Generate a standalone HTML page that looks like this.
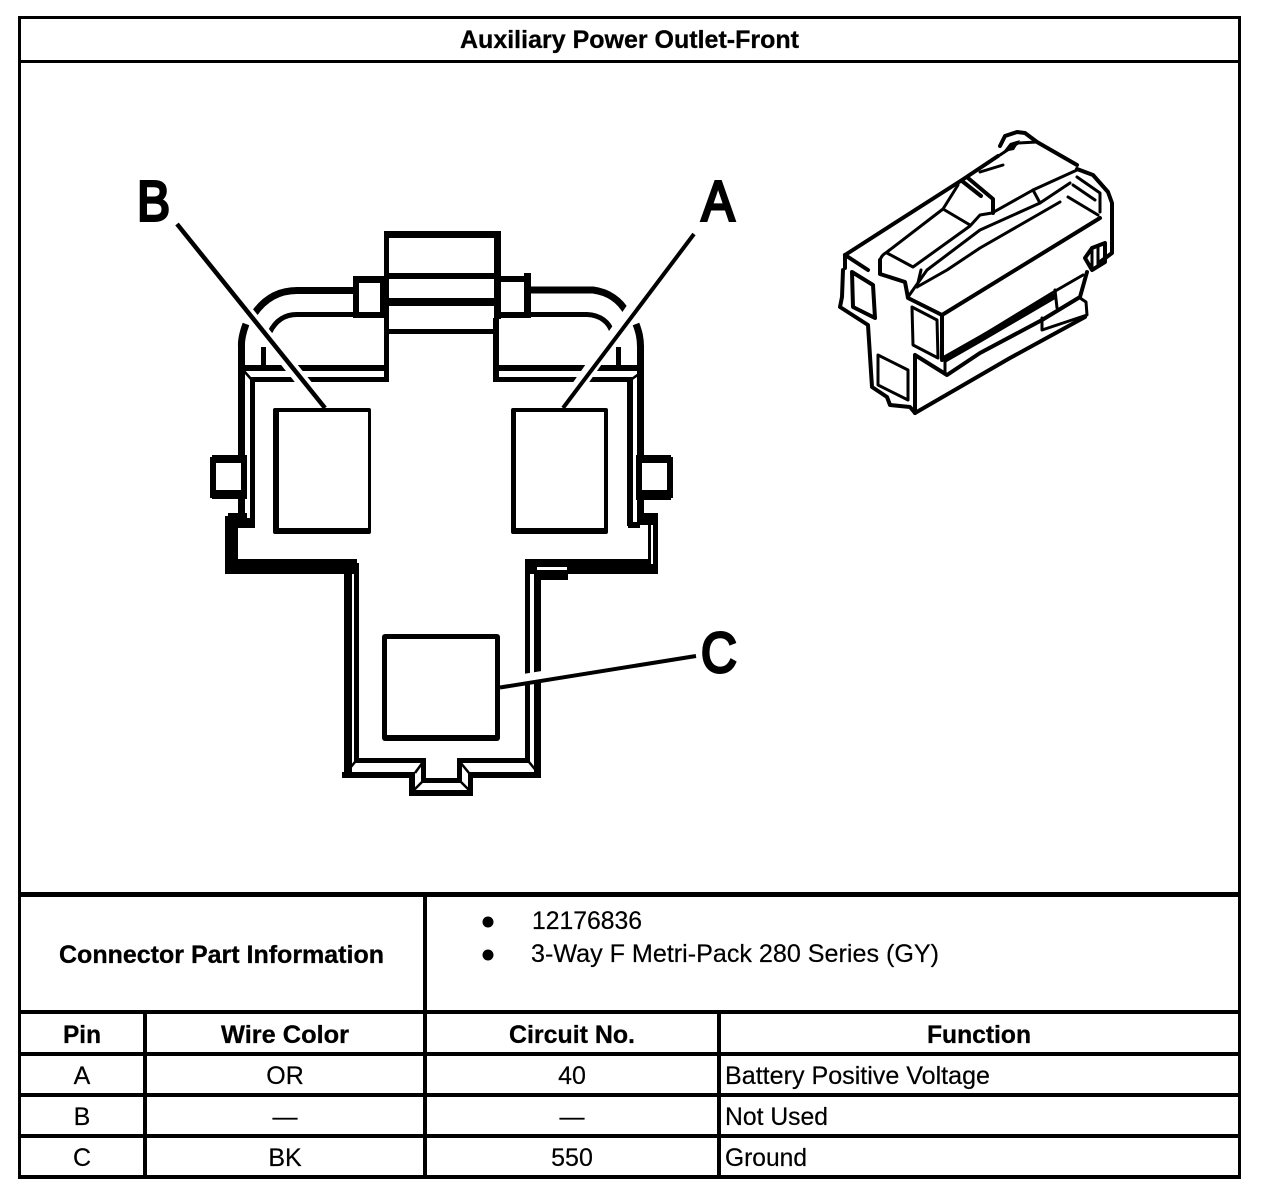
<!DOCTYPE html>
<html>
<head>
<meta charset="utf-8">
<style>
html,body{margin:0;padding:0;background:#fff;width:1280px;height:1194px;overflow:hidden}
svg{display:block;position:absolute;left:0;top:0}
text{font-family:"Liberation Sans",Arial,sans-serif;fill:#000}
.b{font-weight:bold;font-size:25px;stroke:#000;stroke-width:.3px}
.r{font-size:25px;stroke:#000;stroke-width:.2px}
.big{font-size:57px;stroke:#000;stroke-width:3px}
.i{fill:none;stroke:#000;stroke-width:3;stroke-linejoin:round;stroke-linecap:round}
.t{fill:none;stroke:#000;stroke-width:4;stroke-linejoin:round;stroke-linecap:round}
</style>
</head>
<body>
<svg width="1280" height="1194" viewBox="0 0 1280 1194" xmlns="http://www.w3.org/2000/svg">
<rect width="1280" height="1194" fill="#fff"/>

<!-- table frame -->
<g fill="#000" shape-rendering="crispEdges">
<rect x="18" y="16" width="1223" height="3"/>
<rect x="18" y="60" width="1223" height="3"/>
<rect x="18" y="16" width="3" height="1163"/>
<rect x="1238" y="16" width="3" height="1163"/>
<rect x="18" y="892" width="1223" height="5"/>
<rect x="18" y="1010" width="1223" height="4"/>
<rect x="18" y="1052" width="1223" height="4"/>
<rect x="18" y="1093" width="1223" height="4"/>
<rect x="18" y="1134" width="1223" height="4"/>
<rect x="18" y="1175" width="1223" height="4"/>
<rect x="423" y="892" width="4" height="287"/>
<rect x="143" y="1010" width="4" height="169"/>
<rect x="717" y="1010" width="4" height="169"/>
</g>

<!-- table text -->
<text class="b" x="460" y="48" textLength="339" lengthAdjust="spacingAndGlyphs">Auxiliary Power Outlet-Front</text>
<text class="b" x="59" y="963" textLength="325" lengthAdjust="spacingAndGlyphs">Connector Part Information</text>
<circle cx="488" cy="922" r="5.5"/>
<circle cx="488" cy="955" r="5.5"/>
<text class="r" x="532" y="929" textLength="110" lengthAdjust="spacingAndGlyphs">12176836</text>
<text class="r" x="531" y="962" textLength="408" lengthAdjust="spacingAndGlyphs">3-Way F Metri-Pack 280 Series (GY)</text>
<text class="b" x="63" y="1043" textLength="38" lengthAdjust="spacingAndGlyphs">Pin</text>
<text class="b" x="221" y="1043" textLength="128" lengthAdjust="spacingAndGlyphs">Wire Color</text>
<text class="b" x="509" y="1043" textLength="126" lengthAdjust="spacingAndGlyphs">Circuit No.</text>
<text class="b" x="927" y="1043" textLength="104" lengthAdjust="spacingAndGlyphs">Function</text>
<text class="r" x="82" y="1084" text-anchor="middle">A</text>
<text class="r" x="285" y="1084" text-anchor="middle">OR</text>
<text class="r" x="572" y="1084" text-anchor="middle">40</text>
<text class="r" x="725" y="1084" textLength="265" lengthAdjust="spacingAndGlyphs">Battery Positive Voltage</text>
<text class="r" x="82" y="1125" text-anchor="middle">B</text>
<text class="r" x="285" y="1125" text-anchor="middle">—</text>
<text class="r" x="572" y="1125" text-anchor="middle">—</text>
<text class="r" x="725" y="1125" textLength="103" lengthAdjust="spacingAndGlyphs">Not Used</text>
<text class="r" x="82" y="1166" text-anchor="middle">C</text>
<text class="r" x="285" y="1166" text-anchor="middle">BK</text>
<text class="r" x="572" y="1166" text-anchor="middle">550</text>
<text class="r" x="725" y="1166" textLength="82" lengthAdjust="spacingAndGlyphs">Ground</text>

<!-- main connector: filled pieces -->
<g fill="#000" shape-rendering="crispEdges">
<!-- top box -->
<rect x="384" y="231" width="117" height="7"/>
<rect x="384" y="231" width="5" height="151"/>
<rect x="494" y="231" width="7" height="88"/>
<rect x="493" y="318" width="6" height="64"/>
<rect x="384" y="273" width="116" height="6"/>
<rect x="384" y="298" width="116" height="8"/>
<rect x="384" y="329" width="112" height="5"/>
<!-- small squares -->
<rect x="353" y="276" width="6" height="42"/>
<rect x="380" y="276" width="6" height="42"/>
<rect x="353" y="276" width="32" height="7"/>
<rect x="355" y="312" width="30" height="6"/>
<rect x="499" y="276" width="28" height="6"/>
<rect x="499" y="312" width="27" height="6"/>
<rect x="524" y="273" width="7" height="45"/>
<!-- horizontal ledges -->
<rect x="243" y="365" width="145" height="6"/>
<rect x="250" y="377" width="138" height="5"/>
<rect x="496" y="365" width="147" height="6"/>
<rect x="493" y="377" width="140" height="5"/>
<!-- upper body verticals -->
<rect x="238" y="345" width="7" height="170"/>
<rect x="250" y="378" width="5" height="150"/>
<rect x="627" y="378" width="6" height="148"/>
<rect x="637" y="345" width="7" height="170"/>
<rect x="261" y="347" width="5" height="20"/>
<rect x="616" y="347" width="5" height="20"/>
<!-- tabs -->
<rect x="210" y="457" width="37" height="41"/>
<rect x="212" y="455" width="35" height="44"/>
<rect x="636" y="455" width="35" height="45"/>
<rect x="636" y="457" width="37" height="41"/>
<!-- lower left flange -->
<rect x="225" y="516" width="13" height="58"/>
<rect x="228" y="513" width="19" height="6"/>
<rect x="238" y="518" width="17" height="10"/>
<rect x="225" y="559" width="132" height="15"/>
<!-- lower right flange -->
<rect x="628" y="522" width="12" height="6"/>
<rect x="637" y="513" width="21" height="12"/>
<rect x="650" y="513" width="8" height="61"/>
<rect x="525" y="559" width="133" height="15"/>
<rect x="648" y="525" width="2" height="39"/>
<rect x="534" y="570" width="34" height="10"/>
<!-- stem verticals -->
<rect x="344" y="572" width="8" height="205"/>
<rect x="354" y="563" width="5" height="200"/>
<rect x="525" y="563" width="5" height="200"/>
<rect x="534" y="570" width="7" height="207"/>
<!-- stem bottom -->
<rect x="354" y="758" width="71" height="5"/>
<rect x="421" y="758" width="5" height="25"/>
<rect x="421" y="778" width="41" height="5"/>
<rect x="457" y="758" width="5" height="25"/>
<rect x="457" y="758" width="73" height="5"/>
<rect x="342" y="772" width="73" height="6"/>
<rect x="409" y="772" width="6" height="24"/>
<rect x="409" y="790" width="64" height="6"/>
<rect x="468" y="772" width="5" height="24"/>
<rect x="468" y="772" width="73" height="6"/>
</g>
<g fill="#fff" shape-rendering="crispEdges">
<rect x="216" y="463" width="25" height="27"/>
<rect x="642" y="463" width="25" height="27"/>
<rect x="359" y="283" width="21" height="29"/>
<rect x="502" y="282" width="22" height="30"/>
<rect x="651" y="525" width="2" height="39"/>
<rect x="537" y="567" width="30" height="3"/>
</g>
<!-- chamfers -->
<g fill="none" stroke="#000" stroke-width="2.500">
<path d="M355 762L346 773M529 762L538 773M423 762L415 773M460 762L469 773M423 781L413 791M460 781L470 791"/>
<path d="M244 371L251 379M643 371L632 379M527 565L536 572M351 572L357 565"/>
</g>
<!-- curves -->
<g fill="none" stroke="#000" stroke-linecap="butt">
<path d="M354 290.500H297C280 290.500 265 298 254 314" stroke-width="7"/>
<path d="M531 290H593C608 292 620 300 627 313" stroke-width="7"/>
<path d="M355 314.500H297C285 314.500 276 320 270 332" stroke-width="5"/>
<path d="M524 314.500H587C600 315 609 322 612 332" stroke-width="5"/>
<path d="M241.500 347C241 340 243 332 246 324" stroke-width="7"/>
<path d="M640.500 347C640.500 338 639 332 636 324" stroke-width="7"/>
</g>

<!-- pin rectangles -->
<g fill="#000">
<rect x="273" y="408" width="98" height="126" rx="2"/>
<rect x="511" y="408" width="97" height="126" rx="2"/>
<rect x="382" y="634" width="118" height="107" rx="3"/>
</g>
<g fill="#fff" shape-rendering="crispEdges">
<rect x="279" y="412" width="89" height="116"/>
<rect x="516" y="412" width="88" height="116"/>
<rect x="387" y="639" width="108" height="96"/>
</g>

<!-- leaders with halos -->
<g fill="none" stroke-linecap="butt">
<line x1="230" y1="291" x2="312" y2="393" stroke="#fff" stroke-width="13"/>
<line x1="645" y1="291" x2="575" y2="391" stroke="#fff" stroke-width="13"/>
<line x1="517" y1="680.500" x2="548" y2="675.500" stroke="#fff" stroke-width="11"/>
<line x1="177" y1="224" x2="325" y2="408" stroke="#000" stroke-width="4.500"/>
<line x1="694" y1="234" x2="563" y2="408" stroke="#000" stroke-width="4"/>
<line x1="500" y1="687.500" x2="696" y2="656" stroke="#000" stroke-width="4"/>
</g>

<!-- big labels -->
<text class="big" transform="translate(137 220.500) scale(.87 1)" x="0" y="0">B</text>
<text class="big" transform="translate(701.500 220.500) scale(.87 1)" x="0" y="0">A</text>
<text class="big" transform="translate(701 672) scale(.87 1)" x="0" y="0">C</text>

<!-- isometric connector -->
<g>
<path class="t" d="M845 255L962 180L998 156M1000 146L1005 136L1017 132L1025 133L1037 142L1077 165M1077 169L1093 175L1108 192L1112 203V253L1100 262"/>
<path class="t" d="M845 255V268M843 270L842 297L840 307L868 325L872 387L887 397L890 405L910 407L915 413L1010 358L1085 317"/>
<path class="t" d="M845 255L868 270M852 272L873 285L875 318L853 307Z"/>
<path class="t" d="M880 260V274L905 282L908 298L942 315L1100 218"/>
<path class="i" d="M958 185L943 209L887 252Q880 256 880 262"/>
<path class="i" d="M943 209L970 225M887 253L913 267L970 226L980 215L992 213L1033 190L1077 170"/>
<path class="i" d="M908 297L927 270L980 230L1040 203L1070 183"/>
<path class="i" d="M917 287L947 270L980 248L1060 202"/>
<path class="i" d="M917 287L921 270"/>
<path class="t" d="M962 181L981 196M968 178L993 199V213"/>
<path class="i" d="M980 172L1003 165M1000 155L1018 143L1037 142"/>
<path d="M1003 152L1010 143L1020 140L1014 150Z" fill="#000"/>
<path class="i" d="M1068 197L1098 215M1077 177L1100 193V212M1073 185L1095 200"/>
<path class="i" d="M1033 190L1040 203"/>
<path class="i" d="M912 307L937 320L938 358L913 345Z"/>
<path class="i" d="M878 355L908 370V400L878 385Z"/>
<path class="t" d="M942 315V360M915 355L947 375L980 353L1042 320L1080 297L1087 272M915 355V413"/>
<path class="i" d="M945 360V373"/>
<path d="M943 356L980 335L1053 293L1057 298L980 343L945 363Z" fill="#000"/>
<path class="i" d="M980 337L1057 290L1083 275"/>
<path class="i" d="M1055 290L1057 308M1042 318V330L1087 315L1086 302L1080 298"/>
<path class="t" d="M1085 258L1092 248L1105 243L1105 262L1092 270Z"/>
<path class="i" d="M1092 248V268M1098 246V265"/>
</g>
</svg>
</body>
</html>
